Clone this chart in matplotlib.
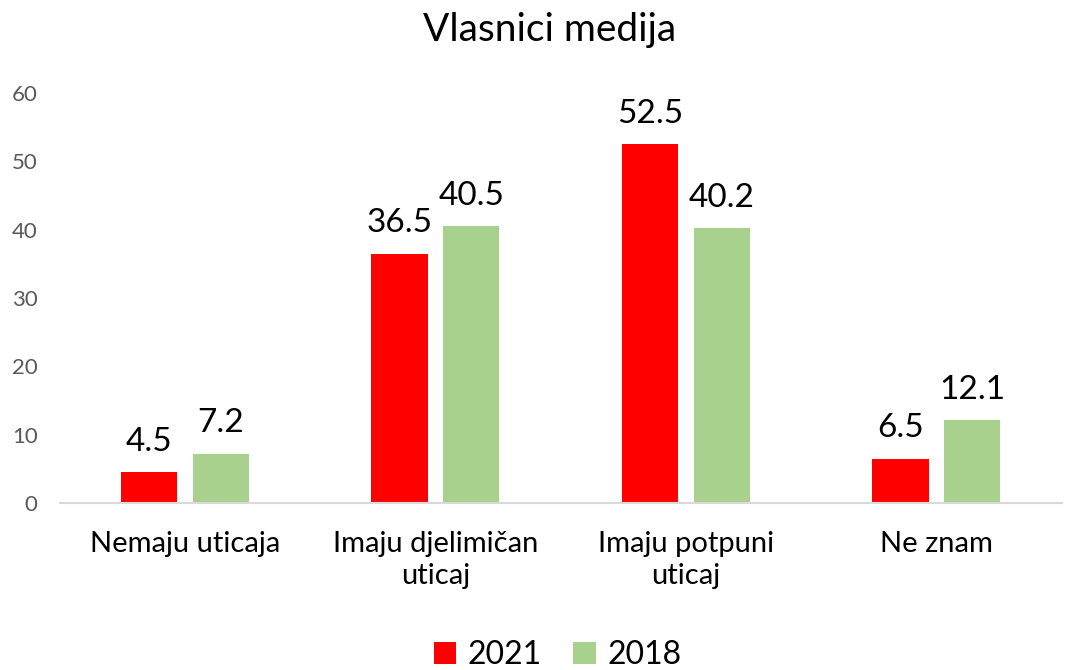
import numpy as np
import matplotlib.pyplot as plt

categories = ["Nemaju uticaja", "Imaju djelimičan\nuticaj", "Imaju potpuni\nuticaj", "Ne znam"]
values_2021 = [4.5, 36.5, 52.5, 6.5]
values_2018 = [7.2, 40.5, 40.2, 12.1]
series_names = ["2021", "2018"]

plt.rcParams["font.family"] = ["Lato", "DejaVu Sans"]

fig = plt.figure(figsize=(10.68, 6.7), dpi=100)
ax = fig.add_axes([0.056, 0.249, 0.938, 0.612])

x = np.arange(len(categories))
w = 0.225
off = 0.143

b1 = ax.bar(x - off, values_2021, w, color="#ff0000", label=series_names[0])
b2 = ax.bar(x + off, values_2018, w, color="#a9d18e", label=series_names[1])

for bars in (b1, b2):
    for rect in bars:
        h = rect.get_height()
        ax.text(rect.get_x() + rect.get_width() / 2, h + 2.3, f"{h:.1f}",
                ha="center", va="bottom", fontsize=24, color="black")

ax.set_xlim(-0.5, 3.5)
ax.set_ylim(0, 60)
ax.set_yticks(range(0, 61, 10))
ax.set_xticks(x)
ax.set_xticklabels(categories, fontsize=21, linespacing=1.3)
ax.tick_params(axis="y", labelsize=16, labelcolor="#595959", length=0, pad=16)
ax.tick_params(axis="x", length=0, pad=20)

for s in ("top", "right", "left"):
    ax.spines[s].set_visible(False)
ax.spines["bottom"].set_color("#d9d9d9")
ax.spines["bottom"].set_linewidth(1.5)

fig.text(0.515, 0.955, "Vlasnici medija", ha="center", va="center", fontsize=28)

fig.legend(handles=[b1, b2], loc="center", bbox_to_anchor=(0.522, 0.022),
           ncol=2, frameon=False, fontsize=23, handlelength=0.7, handleheight=0.7,
           columnspacing=1.0, handletextpad=0.35)

fig.savefig("out.png", dpi=100)
